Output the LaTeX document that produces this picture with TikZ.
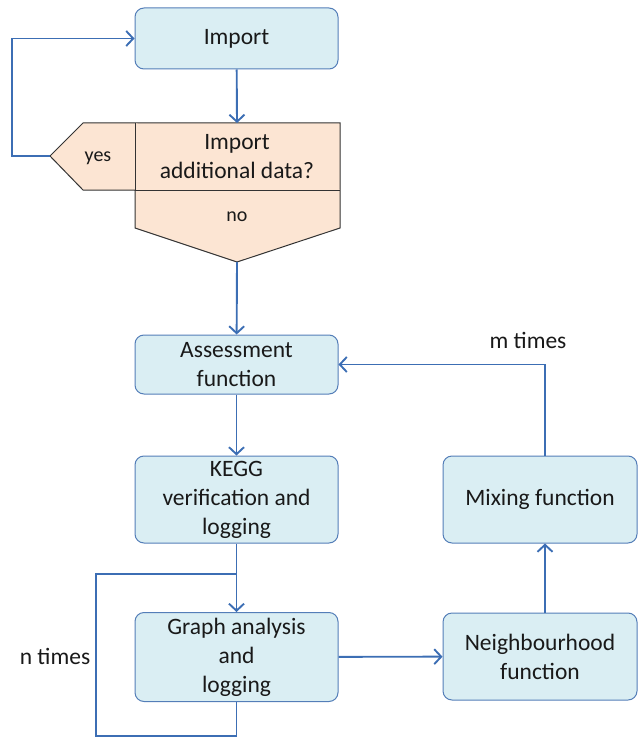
\documentclass[tikz,border=0pt]{standalone}
\usepackage{fontspec}
\setmainfont{Carlito}
\usetikzlibrary{positioning,arrows.meta}
\definecolor{boxfill}{RGB}{218,238,243}
\definecolor{boxline}{RGB}{84,126,184}
\definecolor{flowblue}{RGB}{60,110,180}
\definecolor{askfill}{RGB}{252,229,211}

\begin{document}
\begin{tikzpicture}[x=1pt, y=-1pt,
    box/.style = {draw=boxline, fill=boxfill, rounded corners=9pt, line width=1pt,
                  minimum width=203pt, align=center, text=black!90,
                  font=\fontsize{23.5}{29}\selectfont},
    ask/.style = {draw=black!80, fill=askfill, line width=1pt},
    lbl/.style = {text=black!90, font=\fontsize{23.5}{29}\selectfont},
    small/.style = {text=black!90, font=\fontsize{20}{24}\selectfont},
    flow/.style = {draw=flowblue, line width=1.9pt},
    arr/.style = {flow, -{Straight Barb[length=7pt,width=15pt]}}]
    \useasboundingbox (0,0) rectangle (638,738);

    \node[box, minimum height=61pt](import) at (236.5,38.5){Import};

    % decision
    \draw[ask] (83,123) -- (340,123) -- (340,228) -- (237,262) -- (135,228)
               -- (135,190) -- (83,190) -- (50,156) -- cycle;
    \draw[ask] (135,123) -- (135,190) -- (340,190);
    \coordinate (asktop) at (237,123);
    \coordinate (askyes) at (50,156);
    \coordinate (askno) at (237,262);
    \node[lbl, align=center](q) at (237,157){Import\\additional data?};
    \node[small](yes) at (98,158){yes};
    \node[small](no) at (237,217){no};

    \node[box, minimum height=59pt](assess) at (236.5,364.5){Assessment\\function};
    \node[box, minimum height=87pt](kegg) at (236.5,499.5){KEGG\\verification and\\logging};
    \node[box, minimum height=89pt](graph) at (236.5,657){Graph analysis\\and\\logging};
    \node[box, minimum width=194pt, minimum height=87pt](neigh) at (540,656.5){Neighbourhood\\function};
    \node[box, minimum width=194pt, minimum height=87pt](mix) at (540,499.5){Mixing function};

    \coordinate (yesl) at (12,156);
    \coordinate (nloop) at (96,574);
    \coordinate (mturn) at (545,364.5);

    \node[lbl](ntimes) at (55,656){n times};
    \node[lbl](mtimes) at (528,340){m times};

    \draw[arr] (import) -- (asktop);
    \draw[arr] (askyes) -- (yesl) |- (import);
    \draw[arr] (askno) -- (assess);
    \draw[arr] (assess) -- (kegg);
    \draw[arr] (kegg) -- (graph);
    \draw[flow] (graph.south) -- ++(0,34) -| (nloop) -- (236.5,574);
    \draw[arr] (graph) -- (neigh);
    \draw[arr] (neigh.north -| mturn) -- (mix.south -| mturn);
    \draw[arr] (mix.north -| mturn) -- (mturn) -- (assess);
\end{tikzpicture}
\end{document}
